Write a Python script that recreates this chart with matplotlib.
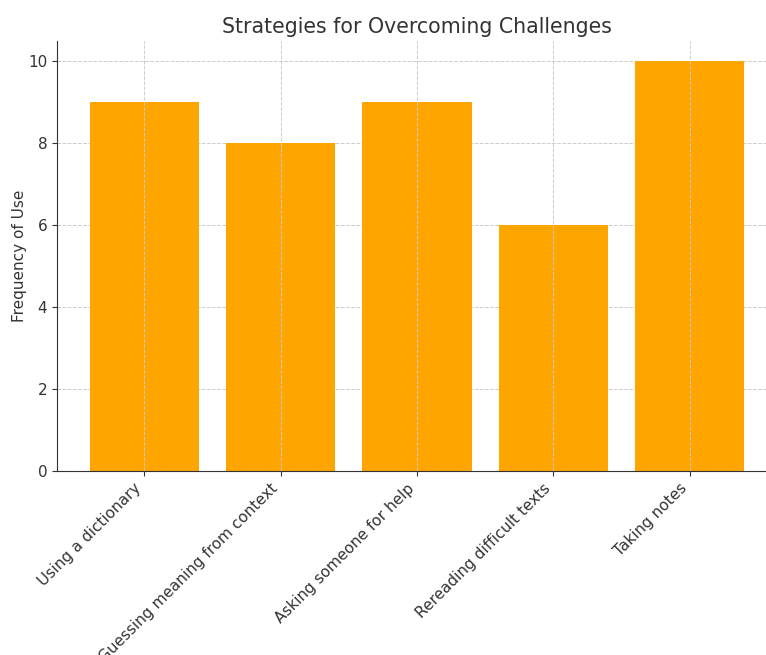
import matplotlib
matplotlib.use("Agg")
import matplotlib.pyplot as plt

categories = ["Using a dictionary", "Guessing meaning from context", "Asking someone for help",
              "Rereading difficult texts", "Taking notes"]
values = [9, 8, 9, 6, 10]

plt.rcParams['font.family'] = ['DejaVu Sans']
fig = plt.figure(figsize=(7.66, 6.55), dpi=100)
ax = fig.add_axes([57/766, 1-471/655, (777-57)/766, (471-41)/655])
ax.bar(categories, values, color='#FFA500', width=0.8, zorder=1)
ax.grid(True, linestyle='--', color='#cccccc', linewidth=0.7)
ax.xaxis.set_zorder(2.5)
ax.yaxis.set_zorder(0.5)
ax.set_ylim(0, 10.5)
ax.set_title("Strategies for Overcoming Challenges", fontsize=14.8, color='#333333')
ax.set_ylabel("Frequency of Use", fontsize=11, color='#333333', labelpad=0.5)
ax.tick_params(axis='both', labelsize=11, colors='#333333')
plt.setp(ax.get_xticklabels(), rotation=45, ha='right', rotation_mode='default')
for s in ['top', 'right']:
    ax.spines[s].set_visible(False)
for s in ['left', 'bottom']:
    ax.spines[s].set_color('#333333')
    ax.spines[s].set_zorder(3)
fig.savefig("out.png", dpi=100)
